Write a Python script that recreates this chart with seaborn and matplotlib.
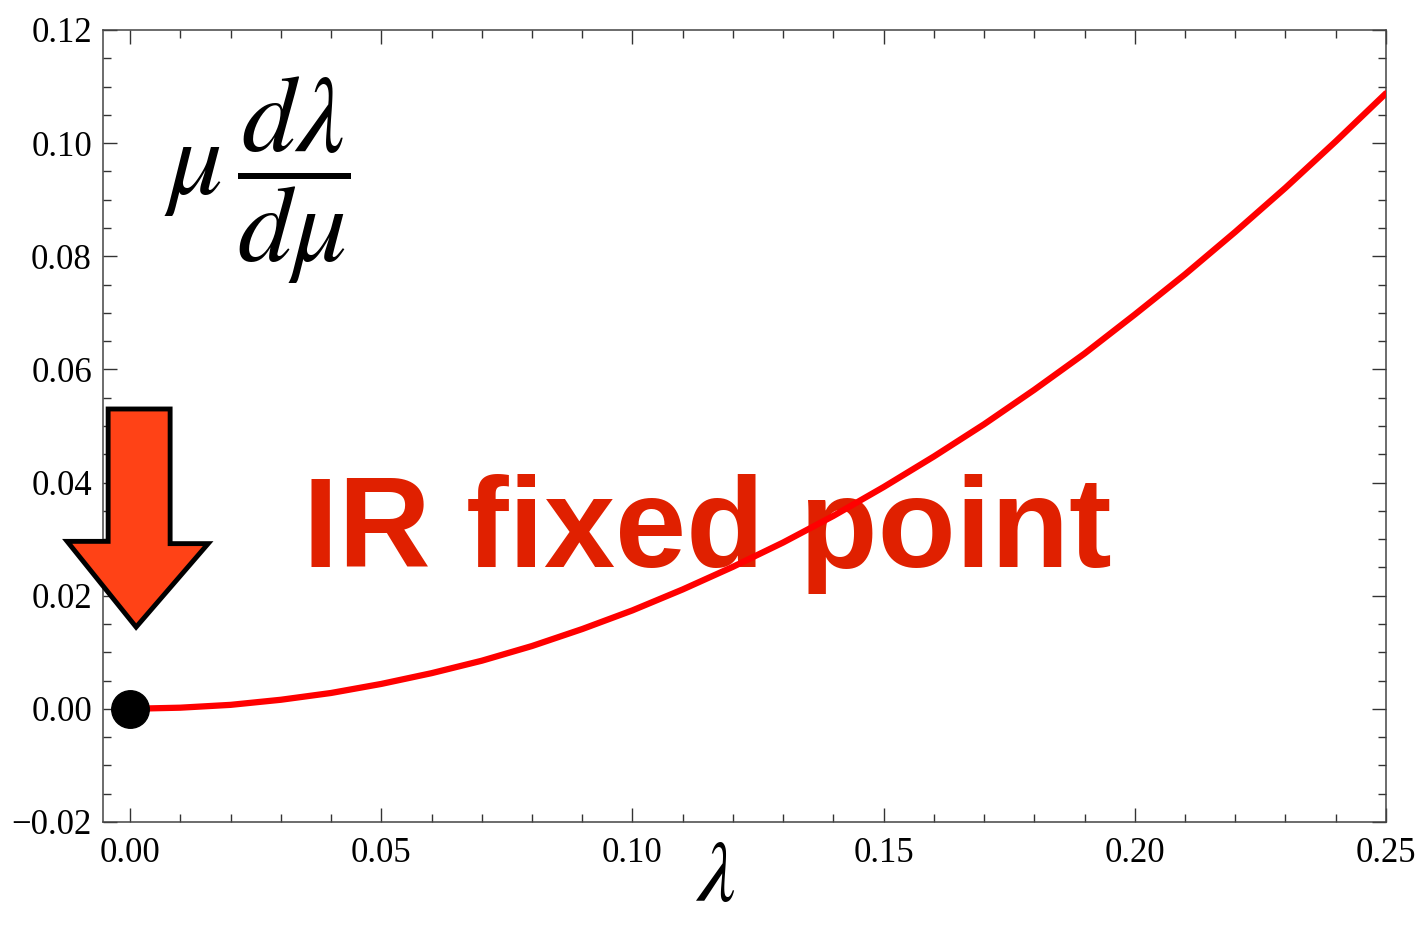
import matplotlib
matplotlib.use("Agg")
import matplotlib.pyplot as plt
import seaborn as sns
import pandas as pd
from matplotlib.patches import Polygon
from matplotlib.ticker import MultipleLocator

# beta function values
lam = [0.00, 0.01, 0.02, 0.03, 0.04, 0.05, 0.06, 0.07, 0.08, 0.09, 0.10, 0.11, 0.12,
       0.13, 0.14, 0.15, 0.16, 0.17, 0.18, 0.19, 0.20, 0.21, 0.22, 0.23, 0.24, 0.25]
beta = [0.0, 0.0002, 0.0007, 0.0016, 0.0028, 0.0044, 0.0063, 0.0085, 0.0111, 0.0141,
        0.0174, 0.0211, 0.0251, 0.0294, 0.0341, 0.0392, 0.0446, 0.0503, 0.0564, 0.0628,
        0.0697, 0.0768, 0.0843, 0.0921, 0.1003, 0.1088]
fixed_point = [0.0]
fixed_value = [0.0]
x_ticks = [0.00, 0.05, 0.10, 0.15, 0.20, 0.25]
y_ticks = [-0.02, 0.00, 0.02, 0.04, 0.06, 0.08, 0.10, 0.12]

df = pd.DataFrame({"lam": lam, "beta": beta})

sns.set_style("ticks")
plt.rcParams["font.family"] = ["Liberation Serif", "DejaVu Serif"]
plt.rcParams["mathtext.fontset"] = "stix"
plt.rcParams["text.color"] = "black"
plt.rcParams["xtick.labelcolor"] = "black"
plt.rcParams["ytick.labelcolor"] = "black"

fig = plt.figure(figsize=(14.19, 9.25), dpi=100)
ax = fig.add_axes([0.0726, 0.1114, 0.9041, 0.8562])

sns.lineplot(data=df, x="lam", y="beta", color="#ff0000", linewidth=4.5, ax=ax,
             solid_capstyle="round", solid_joinstyle="round", zorder=3)
ax.plot(fixed_point, fixed_value, "o", color="black", ms=27, zorder=4, clip_on=False)

ax.set_xlim(-0.0054, 0.25)
ax.set_ylim(-0.02, 0.12)
ax.set_xticks(x_ticks)
ax.set_yticks(y_ticks)
ax.set_xticklabels([f"{v:.2f}" for v in x_ticks])
ax.set_yticklabels([f"{v:.2f}".replace("-", "\u2212") for v in y_ticks])
ax.xaxis.set_minor_locator(MultipleLocator(0.01))
ax.yaxis.set_minor_locator(MultipleLocator(0.005))
ax.tick_params(which="both", direction="in", top=True, right=True, width=1, color="#333333")
ax.tick_params(which="major", length=10, labelsize=25)
ax.tick_params(axis="y", which="major", pad=8)
ax.tick_params(axis="x", which="major", pad=11)
ax.tick_params(which="minor", length=5.8)
for sp in ax.spines.values():
    sp.set_linewidth(1.1)
    sp.set_color("#444444")
ax.set_xlabel("")
ax.set_ylabel("")

# axis labels placed like the original
ax.text(0.0253, 0.0934, r"$\mu\,\dfrac{d\lambda}{d\mu}$", fontsize=78,
        ha="center", va="center")
ax.text(0.1165, -0.0374, r"$\lambda$", fontsize=62, ha="center", va="bottom", clip_on=False)

# arrow pointing to the fixed point
arrow = [(-0.00438, 0.0530), (0.00796, 0.0530), (0.00796, 0.0292), (0.01553, 0.0292),
         (0.00119, 0.01445), (-0.01254, 0.0296), (-0.00438, 0.0296)]
ax.add_patch(Polygon(arrow, closed=True, facecolor="#ff4216", edgecolor="black",
                     lw=3.5, joinstyle="miter", clip_on=False, zorder=5))

ax.text(0.0344, 0.0250, "IR fixed point", fontsize=92, fontweight="bold",
        family=["Liberation Sans", "DejaVu Sans"], color="#e02000",
        ha="left", va="baseline", zorder=2)

fig.savefig("out.png", dpi=100)
plt.close()
